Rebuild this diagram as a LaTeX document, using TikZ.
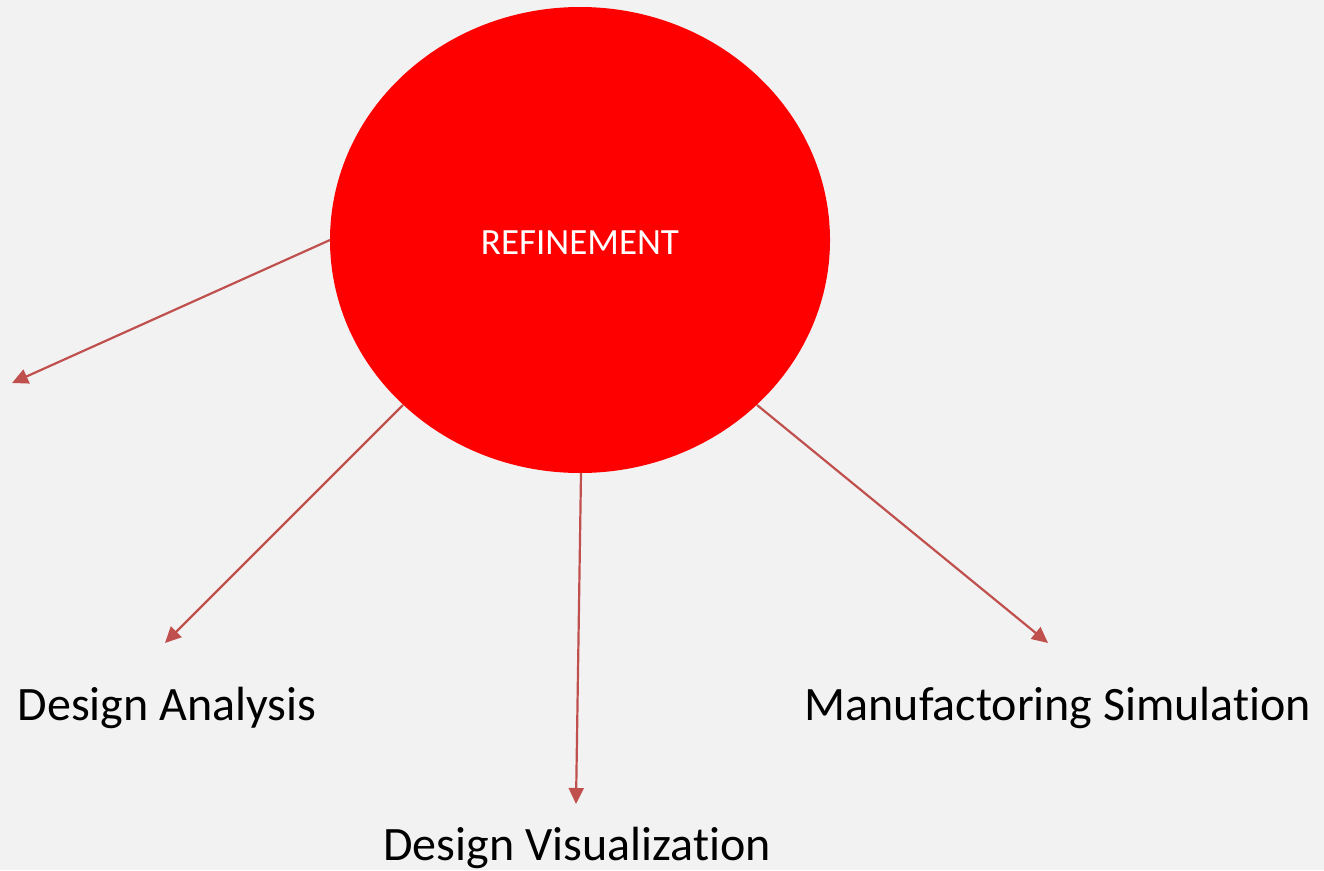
\documentclass[tikz,border=0pt]{standalone}
\usepackage{fontspec}
\setmainfont[Ligatures=NoCommon]{Carlito}
\usetikzlibrary{arrows.meta,shapes.geometric}
\definecolor{bg}{HTML}{F2F2F2}
\definecolor{arr}{HTML}{C0504D}
\tikzset{
  conn/.style={draw=arr, line width=2.2pt, -{Triangle[length=16pt,width=15pt]}},
  lbl/.style={font=\fontsize{48}{56}\selectfont, text=black, inner sep=0pt},
}
\begin{document}
\begin{tikzpicture}[x=1pt,y=-1pt]
\fill[bg] (0,0) rectangle (1324,870);
\useasboundingbox (0,0) rectangle (1324,870);
\node[ellipse, fill=red, minimum width=500pt, minimum height=466pt, inner sep=0pt] (c) at (580,240) {};
\node[text=white, font=\fontsize{37}{44}\selectfont] (t) at (580,243) {REFINEMENT};
\coordinate (e1) at (12,383);
\coordinate (s1) at (330,240);
\coordinate (s2) at (403,405);
\coordinate (e2) at (165,643);
\coordinate (s3) at (581,473);
\coordinate (e3) at (576,804);
\coordinate (s4) at (757,405);
\coordinate (e4) at (1048,643);
\draw[conn] (s1) -- (e1);
\draw[conn] (s2) -- (e2);
\draw[conn] (s3) -- (e3);
\draw[conn] (s4) -- (e4);
\node[lbl] (da) at (167,708) {Design Analysis};
\node[lbl] (dv) at (577,848) {Design Visualization};
\node[lbl] (ms) at (1058,708) {Manufactoring Simulation};
\end{tikzpicture}
\end{document}
